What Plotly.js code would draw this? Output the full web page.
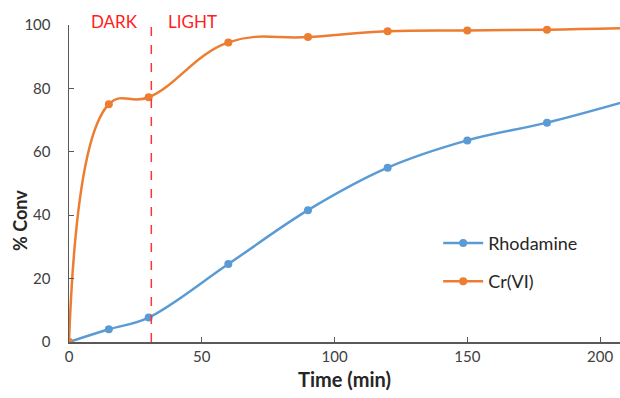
<!DOCTYPE html>
<html><head><meta charset="utf-8">
<script src="https://cdn.plot.ly/plotly-3.0.1.min.js"></script>
<style>html,body{margin:0;padding:0;background:#fff}</style>
</head><body><div id="chart" style="width:620px;height:398px"></div>
<script>
var time = [0, 15, 30, 60, 90, 120, 150, 180, 210];
var rhodamine = [0, 4, 7.7, 24.6, 41.6, 55, 63.6, 69.2, 76];
var crvi = [0, 75, 77.2, 94.5, 96.2, 98, 98.3, 98.5, 99];
var xTicks = [0, 50, 100, 150, 200];
var yTicks = [0, 20, 40, 60, 80, 100];
var boundary = 31;

var font = "Lato, 'Open Sans', sans-serif";
var traces = [
  {x: time, y: rhodamine, name: 'Rhodamine', legendgroup: 'a', mode: 'lines+markers', line: {color: '#5B9BD5', width: 2.5, shape: 'spline', smoothing: 1}, marker: {color: '#5B9BD5', size: 8}},
  {x: time, y: crvi, name: 'Cr(VI)', legendgroup: 'b', mode: 'lines+markers', line: {color: '#ED7D31', width: 2.5, shape: 'spline', smoothing: 1.2}, marker: {color: '#ED7D31', size: 8}}
];
var layout = {
  width: 620, height: 398,
  margin: {l: 69, r: 0, t: 25, b: 56},
  paper_bgcolor: '#fff', plot_bgcolor: '#fff',
  font: {family: font, size: 15, color: '#404040'},
  showlegend: true,
  legend: {x: 0.67, y: 0.37, xanchor: 'left', yanchor: 'top', font: {size: 18, color: '#262626'}, bgcolor: 'rgba(0,0,0,0)', tracegroupgap: 12, itemwidth: 40},
  xaxis: {range: [0, 207.5], tickvals: xTicks, ticks: 'inside', ticklen: 5, tickcolor: '#595959', showline: true, linecolor: '#595959', linewidth: 1.5, showgrid: false, zeroline: false,
    title: {text: '<b>Time (min)</b>', font: {size: 20, color: '#262626'}, standoff: 9}, tickfont: {size: 15}},
  yaxis: {range: [0, 100], tickvals: yTicks, ticks: 'outside', ticklen: 14, tickcolor: 'rgba(0,0,0,0)', showline: true, linecolor: '#595959', linewidth: 1.5, showgrid: false, zeroline: false,
    tickfont: {size: 15}},
  yaxis2: {range: [0, 100], overlaying: 'y', side: 'left', tickvals: yTicks, ticks: 'inside', ticklen: 5, tickcolor: '#595959', showticklabels: false, showline: false, showgrid: false, zeroline: false},
  shapes: [{type: 'line', xref: 'x', yref: 'paper', x0: boundary, x1: boundary, y0: 0, y1: 1.01, line: {color: '#FF3333', width: 1.5, dash: 'dash'}}],
  annotations: [
    {x: 17, y: 1.012, xref: 'x', yref: 'paper', text: 'DARK', showarrow: false, yanchor: 'middle', font: {size: 17, color: '#FF2020'}},
    {x: 46.5, y: 1.012, xref: 'x', yref: 'paper', text: 'LIGHT', showarrow: false, yanchor: 'middle', font: {size: 17, color: '#FF2020'}},
    {x: -0.089, y: 0.385, xref: 'paper', yref: 'paper', xanchor: 'center', yanchor: 'middle', text: '<b>% Conv</b>', textangle: -90, showarrow: false, font: {size: 18, color: '#262626'}}
  ]
};
traces.push({x: [0], y: [0], yaxis: 'y2', mode: 'markers', marker: {opacity: 0}, showlegend: false, hoverinfo: 'skip'});
Plotly.newPlot('chart', traces, layout, {displayModeBar: false, staticPlot: true});
</script></body></html>
